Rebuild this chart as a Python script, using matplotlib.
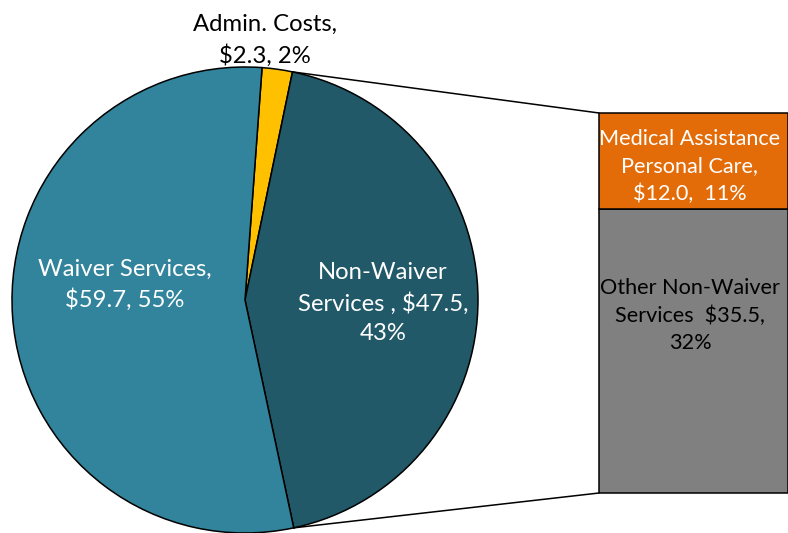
import matplotlib
matplotlib.use("Agg")
import matplotlib.pyplot as plt
import numpy as np
from matplotlib.patches import ConnectionPatch

plt.rcParams['font.family'] = ['Lato', 'DejaVu Sans']

# Data
pie_labels = ["Admin. Costs,\n$2.3, 2%", "Non-Waiver\nServices , $47.5,\n43%", "Waiver Services,\n$59.7, 55%"]
pie_values = [2.3, 47.5, 59.7]
pie_colors = ["#FFC000", "#215968", "#31849B"]

bar_labels = ["Other Non-Waiver\nServices  $35.5,\n32%", "Medical Assistance\nPersonal Care,\n$12.0,  11%"]
bar_values = [35.5, 12.0]
bar_colors = ["#808080", "#E36C09"]

W, H = 788, 533
fig = plt.figure(figsize=(W / 100, H / 100), dpi=100)

# Pie axes
ax = fig.add_axes([12 / W, 0 / H, 466 / W, 466 / H])
wedges, _ = ax.pie(pie_values, colors=pie_colors, startangle=85.8, counterclock=False,
                   wedgeprops=dict(edgecolor="black", linewidth=1.1))
ax.set_xlim(-1, 1)
ax.set_ylim(-1, 1)
ax.set_aspect('equal')
ax.axis('off')
for w in wedges:
    w.set_clip_on(False)

fs = 17.2
ls = 1.47
ax.text(0.086, 1.115, pie_labels[0], ha='center', va='center', fontsize=fs, color='black',
        linespacing=ls)
ax.text(0.592, -0.013, pie_labels[1], ha='center', va='center', fontsize=fs, color='white',
        linespacing=ls)
ax.text(-0.515, 0.064, pie_labels[2], ha='center', va='center', fontsize=fs, color='white',
        linespacing=ls)

# Bar axes
bax = fig.add_axes([599 / W, 40 / H, 189 / W, 380 / H])
bottom = 0
for v, c in zip(bar_values, bar_colors):
    bax.bar(0, v, bottom=bottom, width=1.0, color=c, edgecolor='black', linewidth=1.1,
            clip_on=False)
    bottom += v
bax.set_xlim(-0.5, 0.5)
bax.set_ylim(0, sum(bar_values))
bax.axis('off')

bfs = 15.6
bax.text(-0.019, 22.2, bar_labels[0], ha='center', va='center', fontsize=bfs,
         color='black', linespacing=1.45)
bax.text(-0.019, 40.8, bar_labels[1], ha='center', va='center', fontsize=bfs,
         color='white', linespacing=1.45)

# Connection lines
nw = wedges[1]
t_top = np.deg2rad(nw.theta2)
t_bot = np.deg2rad(nw.theta1)
r = nw.r
for t, yb in [(t_top, sum(bar_values)), (t_bot, 0)]:
    con = ConnectionPatch(xyA=(r * np.cos(t), r * np.sin(t)), coordsA=ax.transData,
                          xyB=(-0.5, yb), coordsB=bax.transData,
                          color='black', linewidth=1.1)
    fig.add_artist(con)

fig.savefig("out.png", dpi=100)
